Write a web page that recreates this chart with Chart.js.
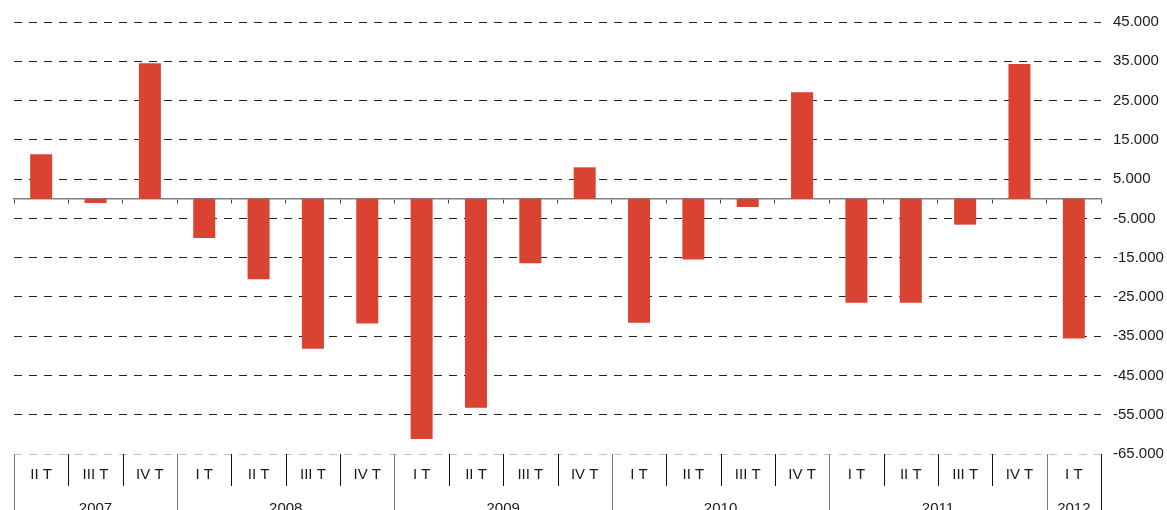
<!DOCTYPE html>
<html>
<head>
<meta charset="utf-8">
<title>Variazione trimestrale</title>
<script src="https://cdn.jsdelivr.net/npm/chart.js@4/dist/chart.umd.min.js"></script>
<style>
  body { margin: 0; background: #fff; }
</style>
</head>
<body>
<canvas id="grafico" width="1167" height="510"></canvas>
<script>
// dati
const trimestri = ['II T', 'III T', 'IV T', 'I T', 'II T', 'III T', 'IV T', 'I T', 'II T', 'III T',
  'IV T', 'I T', 'II T', 'III T', 'IV T', 'I T', 'II T', 'III T', 'IV T', 'I T'];
const anni = ['2007', '2007', '2007', '2008', '2008', '2008', '2008', '2009', '2009', '2009',
  '2009', '2010', '2010', '2010', '2010', '2011', '2011', '2011', '2011', '2012'];
const valori = [11350, -1100, 34500, -10000, -20500, -38200, -31800, -61200, -53200, -16400,
  8000, -31600, -15500, -2100, 27100, -26500, -26500, -6600, 34300, -35600];

// asse y: da -65.000 a 45.000, passo 10.000
const yMin = -65000;
const yMax = 45000;
const yPasso = 10000;

const font = '"Liberation Sans", Arial, sans-serif';

// numeri con il punto come separatore delle migliaia
function formatta(v) {
  const s = String(Math.abs(v)).replace(/\B(?=(\d{3})+(?!\d))/g, '.');
  return (v < 0 ? '-' : '') + s;
}

// disegna la tabella sotto il grafico (trimestri + anni)
const tabellaAsse = {
  id: 'tabellaAsse',
  afterDraw(chart) {
    const ctx = chart.ctx;
    const area = chart.chartArea;
    const x = chart.scales.x;
    const meta = (x.getPixelForValue(1) - x.getPixelForValue(0)) / 2;
    const alto = area.bottom;
    const fondo = chart.height;

    ctx.save();
    ctx.font = '15px ' + font;
    ctx.fillStyle = '#1a1a1a';
    ctx.textAlign = 'center';
    ctx.textBaseline = 'middle';

    let inizioGruppo = 0;
    trimestri.forEach((t, i) => {
      const cx = x.getPixelForValue(i);
      ctx.fillText(t, cx, alto + 21);

      // linea a sinistra della cella
      const bx = Math.round(cx - meta) + 0.5;
      const nuovoAnno = i === 0 || anni[i] !== anni[i - 1];
      ctx.beginPath();
      ctx.lineWidth = 1;
      ctx.strokeStyle = nuovoAnno ? '#7a7a7a' : '#111';
      ctx.moveTo(bx, alto);
      ctx.lineTo(bx, nuovoAnno ? fondo : alto + 32);
      ctx.stroke();

      // etichetta dell'anno a fine gruppo
      if (i === trimestri.length - 1 || anni[i + 1] !== anni[i]) {
        const xa = (x.getPixelForValue(inizioGruppo) + cx) / 2;
        ctx.fillText(anni[i], xa, alto + 55);
        inizioGruppo = i + 1;
      }
    });

    // bordo destro
    const ultimo = Math.round(x.getPixelForValue(trimestri.length - 1) + meta) + 0.5;
    ctx.beginPath();
    ctx.strokeStyle = '#111';
    ctx.moveTo(ultimo, alto);
    ctx.lineTo(ultimo, fondo);
    ctx.stroke();
    ctx.restore();
  }
};

new Chart(document.getElementById('grafico'), {
  type: 'bar',
  data: {
    labels: trimestri,
    datasets: [{
      data: valori,
      backgroundColor: '#DA4331',
      borderWidth: 0,
      barPercentage: 0.405,
      categoryPercentage: 1
    }]
  },
  options: {
    responsive: false,
    animation: false,
    layout: { padding: { left: 14, top: 22, bottom: 56, right: 0 } },
    plugins: {
      legend: { display: false },
      tooltip: { enabled: false }
    },
    scales: {
      x: {
        position: { y: 0 }, // linea dello zero con le tacche
        grid: {
          offset: true,
          drawOnChartArea: false,
          drawTicks: true,
          tickLength: 4,
          tickColor: '#444',
          tickWidth: 1
        },
        border: { display: true, color: '#808080', width: 1.5 },
        ticks: { display: false }
      },
      y: {
        position: 'right',
        min: yMin,
        max: yMax,
        afterFit(s) { s.width = 66; },
        ticks: {
          stepSize: yPasso,
          padding: 12,
          color: '#1a1a1a',
          font: { family: font, size: 15 },
          callback: (v) => formatta(v)
        },
        grid: {
          color: (c) => (c.tick && c.tick.value === yMin ? '#c4c4c4' : '#222'),
          lineWidth: 1,
          drawTicks: false
        },
        border: { display: false, dash: [8, 7] }
      }
    }
  },
  plugins: [tabellaAsse]
});
</script>
</body>
</html>
